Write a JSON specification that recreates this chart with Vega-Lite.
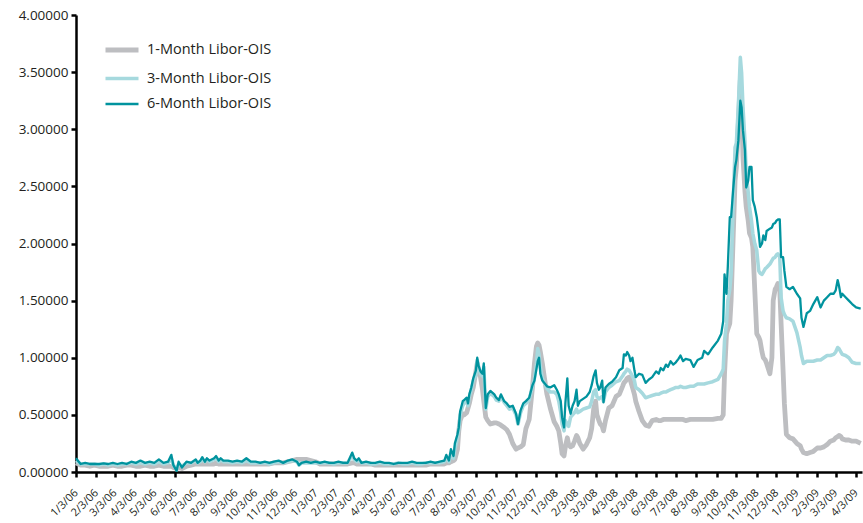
{
  "$schema": "https://vega.github.io/schema/vega-lite/v6.json",
  "width": 786,
  "height": 457,
  "autosize": "none",
  "padding": {"left": 76, "top": 15, "right": 1, "bottom": 51},
  "background": "white",
  "config": {
    "view": {"stroke": null},
    "font": "Open Sans",
    "axis": {
      "domainColor": "#000000",
      "domainWidth": 2.5,
      "tickColor": "#000000",
      "tickWidth": 2.5,
      "tickSize": 5,
      "grid": false,
      "labelColor": "#231f20",
      "labelFont": "Open Sans",
      "title": null
    }
  },
  "data": {"values": [
    {"d":"2006-01-03","m1":0.08,"m3":0.10,"m6":0.12},
    {"d":"2006-01-10","m1":0.06,"m3":0.07,"m6":0.07},
    {"d":"2006-01-17","m1":0.06,"m3":0.07,"m6":0.08},
    {"d":"2006-01-24","m1":0.05,"m3":0.07,"m6":0.07},
    {"d":"2006-01-31","m1":0.06,"m3":0.07,"m6":0.07},
    {"d":"2006-02-07","m1":0.05,"m3":0.06,"m6":0.07},
    {"d":"2006-02-14","m1":0.05,"m3":0.07,"m6":0.075},
    {"d":"2006-02-21","m1":0.05,"m3":0.06,"m6":0.07},
    {"d":"2006-02-28","m1":0.06,"m3":0.07,"m6":0.08},
    {"d":"2006-03-07","m1":0.05,"m3":0.06,"m6":0.07},
    {"d":"2006-03-14","m1":0.05,"m3":0.07,"m6":0.08},
    {"d":"2006-03-21","m1":0.06,"m3":0.07,"m6":0.07},
    {"d":"2006-03-28","m1":0.06,"m3":0.08,"m6":0.09},
    {"d":"2006-04-04","m1":0.05,"m3":0.07,"m6":0.08},
    {"d":"2006-04-11","m1":0.05,"m3":0.08,"m6":0.10},
    {"d":"2006-04-18","m1":0.06,"m3":0.07,"m6":0.08},
    {"d":"2006-04-25","m1":0.05,"m3":0.08,"m6":0.09},
    {"d":"2006-05-02","m1":0.05,"m3":0.07,"m6":0.08},
    {"d":"2006-05-09","m1":0.06,"m3":0.09,"m6":0.11},
    {"d":"2006-05-16","m1":0.05,"m3":0.07,"m6":0.08},
    {"d":"2006-05-23","m1":0.05,"m3":0.08,"m6":0.09},
    {"d":"2006-05-28","m1":0.05,"m3":0.12,"m6":0.15},
    {"d":"2006-05-31","m1":0.04,"m3":0.06,"m6":0.06},
    {"d":"2006-06-05","m1":0.03,"m3":0.02,"m6":0.01},
    {"d":"2006-06-08","m1":0.04,"m3":0.07,"m6":0.09},
    {"d":"2006-06-13","m1":0.03,"m3":0.05,"m6":0.04},
    {"d":"2006-06-20","m1":0.05,"m3":0.08,"m6":0.09},
    {"d":"2006-06-27","m1":0.06,"m3":0.08,"m6":0.08},
    {"d":"2006-07-04","m1":0.07,"m3":0.10,"m6":0.11},
    {"d":"2006-07-07","m1":0.07,"m3":0.08,"m6":0.08},
    {"d":"2006-07-11","m1":0.07,"m3":0.09,"m6":0.10},
    {"d":"2006-07-14","m1":0.07,"m3":0.11,"m6":0.13},
    {"d":"2006-07-18","m1":0.07,"m3":0.09,"m6":0.09},
    {"d":"2006-07-21","m1":0.07,"m3":0.11,"m6":0.12},
    {"d":"2006-07-25","m1":0.07,"m3":0.09,"m6":0.10},
    {"d":"2006-08-01","m1":0.07,"m3":0.11,"m6":0.12},
    {"d":"2006-08-04","m1":0.08,"m3":0.12,"m6":0.14},
    {"d":"2006-08-08","m1":0.07,"m3":0.09,"m6":0.10},
    {"d":"2006-08-11","m1":0.07,"m3":0.11,"m6":0.12},
    {"d":"2006-08-15","m1":0.07,"m3":0.09,"m6":0.10},
    {"d":"2006-08-22","m1":0.07,"m3":0.09,"m6":0.10},
    {"d":"2006-08-29","m1":0.07,"m3":0.08,"m6":0.09},
    {"d":"2006-09-05","m1":0.07,"m3":0.09,"m6":0.10},
    {"d":"2006-09-12","m1":0.07,"m3":0.08,"m6":0.09},
    {"d":"2006-09-19","m1":0.07,"m3":0.10,"m6":0.12},
    {"d":"2006-09-26","m1":0.07,"m3":0.08,"m6":0.09},
    {"d":"2006-10-03","m1":0.07,"m3":0.08,"m6":0.09},
    {"d":"2006-10-10","m1":0.07,"m3":0.08,"m6":0.08},
    {"d":"2006-10-17","m1":0.07,"m3":0.08,"m6":0.09},
    {"d":"2006-10-24","m1":0.07,"m3":0.07,"m6":0.08},
    {"d":"2006-10-31","m1":0.08,"m3":0.08,"m6":0.09},
    {"d":"2006-11-07","m1":0.08,"m3":0.09,"m6":0.10},
    {"d":"2006-11-14","m1":0.08,"m3":0.08,"m6":0.08},
    {"d":"2006-11-21","m1":0.09,"m3":0.09,"m6":0.10},
    {"d":"2006-11-28","m1":0.10,"m3":0.10,"m6":0.11},
    {"d":"2006-12-05","m1":0.11,"m3":0.09,"m6":0.09},
    {"d":"2006-12-08","m1":0.11,"m3":0.06,"m6":0.06},
    {"d":"2006-12-12","m1":0.11,"m3":0.08,"m6":0.08},
    {"d":"2006-12-19","m1":0.11,"m3":0.08,"m6":0.09},
    {"d":"2006-12-26","m1":0.10,"m3":0.08,"m6":0.08},
    {"d":"2007-01-02","m1":0.09,"m3":0.08,"m6":0.09},
    {"d":"2007-01-09","m1":0.07,"m3":0.08,"m6":0.08},
    {"d":"2007-01-16","m1":0.07,"m3":0.08,"m6":0.09},
    {"d":"2007-01-23","m1":0.07,"m3":0.08,"m6":0.08},
    {"d":"2007-01-30","m1":0.07,"m3":0.07,"m6":0.08},
    {"d":"2007-02-06","m1":0.07,"m3":0.08,"m6":0.09},
    {"d":"2007-02-13","m1":0.07,"m3":0.08,"m6":0.08},
    {"d":"2007-02-20","m1":0.07,"m3":0.08,"m6":0.08},
    {"d":"2007-02-27","m1":0.08,"m3":0.15,"m6":0.17},
    {"d":"2007-03-02","m1":0.08,"m3":0.11,"m6":0.12},
    {"d":"2007-03-06","m1":0.07,"m3":0.09,"m6":0.10},
    {"d":"2007-03-09","m1":0.07,"m3":0.10,"m6":0.12},
    {"d":"2007-03-13","m1":0.07,"m3":0.08,"m6":0.08},
    {"d":"2007-03-20","m1":0.07,"m3":0.08,"m6":0.09},
    {"d":"2007-03-27","m1":0.07,"m3":0.07,"m6":0.08},
    {"d":"2007-04-03","m1":0.06,"m3":0.07,"m6":0.08},
    {"d":"2007-04-10","m1":0.06,"m3":0.08,"m6":0.09},
    {"d":"2007-04-17","m1":0.06,"m3":0.07,"m6":0.08},
    {"d":"2007-04-24","m1":0.06,"m3":0.07,"m6":0.08},
    {"d":"2007-05-01","m1":0.06,"m3":0.07,"m6":0.07},
    {"d":"2007-05-08","m1":0.06,"m3":0.08,"m6":0.08},
    {"d":"2007-05-15","m1":0.06,"m3":0.07,"m6":0.08},
    {"d":"2007-05-22","m1":0.06,"m3":0.07,"m6":0.08},
    {"d":"2007-05-29","m1":0.06,"m3":0.08,"m6":0.09},
    {"d":"2007-06-05","m1":0.06,"m3":0.07,"m6":0.08},
    {"d":"2007-06-12","m1":0.06,"m3":0.07,"m6":0.08},
    {"d":"2007-06-19","m1":0.06,"m3":0.08,"m6":0.08},
    {"d":"2007-06-26","m1":0.07,"m3":0.08,"m6":0.09},
    {"d":"2007-07-03","m1":0.07,"m3":0.08,"m6":0.08},
    {"d":"2007-07-10","m1":0.07,"m3":0.08,"m6":0.09},
    {"d":"2007-07-17","m1":0.07,"m3":0.09,"m6":0.10},
    {"d":"2007-07-20","m1":0.08,"m3":0.12,"m6":0.15},
    {"d":"2007-07-24","m1":0.08,"m3":0.09,"m6":0.10},
    {"d":"2007-07-27","m1":0.09,"m3":0.16,"m6":0.20},
    {"d":"2007-07-31","m1":0.10,"m3":0.12,"m6":0.14},
    {"d":"2007-08-02","m1":0.11,"m3":0.20,"m6":0.25},
    {"d":"2007-08-06","m1":0.20,"m3":0.30,"m6":0.33},
    {"d":"2007-08-08","m1":0.36,"m3":0.38,"m6":0.39},
    {"d":"2007-08-10","m1":0.45,"m3":0.50,"m6":0.53},
    {"d":"2007-08-14","m1":0.51,"m3":0.58,"m6":0.62},
    {"d":"2007-08-16","m1":0.50,"m3":0.60,"m6":0.63},
    {"d":"2007-08-20","m1":0.52,"m3":0.62,"m6":0.65},
    {"d":"2007-08-22","m1":0.56,"m3":0.58,"m6":0.60},
    {"d":"2007-08-24","m1":0.60,"m3":0.66,"m6":0.68},
    {"d":"2007-08-27","m1":0.68,"m3":0.72,"m6":0.74},
    {"d":"2007-08-30","m1":0.74,"m3":0.80,"m6":0.82},
    {"d":"2007-09-03","m1":0.88,"m3":0.85,"m6":0.89},
    {"d":"2007-09-05","m1":0.95,"m3":0.98,"m6":1.00},
    {"d":"2007-09-07","m1":0.90,"m3":0.92,"m6":0.93},
    {"d":"2007-09-10","m1":0.83,"m3":0.86,"m6":0.88},
    {"d":"2007-09-13","m1":0.72,"m3":0.84,"m6":0.86},
    {"d":"2007-09-15","m1":0.62,"m3":0.92,"m6":0.95},
    {"d":"2007-09-18","m1":0.48,"m3":0.55,"m6":0.56},
    {"d":"2007-09-21","m1":0.45,"m3":0.66,"m6":0.68},
    {"d":"2007-09-25","m1":0.42,"m3":0.69,"m6":0.71},
    {"d":"2007-10-01","m1":0.43,"m3":0.66,"m6":0.68},
    {"d":"2007-10-04","m1":0.43,"m3":0.63,"m6":0.65},
    {"d":"2007-10-08","m1":0.42,"m3":0.62,"m6":0.63},
    {"d":"2007-10-11","m1":0.41,"m3":0.66,"m6":0.68},
    {"d":"2007-10-16","m1":0.39,"m3":0.61,"m6":0.62},
    {"d":"2007-10-20","m1":0.37,"m3":0.58,"m6":0.60},
    {"d":"2007-10-24","m1":0.33,"m3":0.55,"m6":0.57},
    {"d":"2007-10-29","m1":0.25,"m3":0.56,"m6":0.58},
    {"d":"2007-11-03","m1":0.20,"m3":0.50,"m6":0.51},
    {"d":"2007-11-06","m1":0.21,"m3":0.42,"m6":0.42},
    {"d":"2007-11-10","m1":0.22,"m3":0.52,"m6":0.54},
    {"d":"2007-11-14","m1":0.24,"m3":0.58,"m6":0.60},
    {"d":"2007-11-18","m1":0.38,"m3":0.60,"m6":0.62},
    {"d":"2007-11-23","m1":0.46,"m3":0.63,"m6":0.65},
    {"d":"2007-11-28","m1":0.74,"m3":0.75,"m6":0.76},
    {"d":"2007-12-01","m1":0.95,"m3":0.82,"m6":0.80},
    {"d":"2007-12-04","m1":1.10,"m3":0.95,"m6":0.90},
    {"d":"2007-12-06","m1":1.13,"m3":1.08,"m6":0.97},
    {"d":"2007-12-08","m1":1.11,"m3":1.03,"m6":1.00},
    {"d":"2007-12-10","m1":1.05,"m3":0.92,"m6":0.86},
    {"d":"2007-12-13","m1":0.95,"m3":0.82,"m6":0.80},
    {"d":"2007-12-16","m1":0.83,"m3":0.78,"m6":0.78},
    {"d":"2007-12-20","m1":0.68,"m3":0.73,"m6":0.75},
    {"d":"2007-12-25","m1":0.56,"m3":0.70,"m6":0.74},
    {"d":"2007-12-31","m1":0.44,"m3":0.70,"m6":0.76},
    {"d":"2008-01-04","m1":0.40,"m3":0.68,"m6":0.72},
    {"d":"2008-01-07","m1":0.36,"m3":0.62,"m6":0.68},
    {"d":"2008-01-10","m1":0.25,"m3":0.52,"m6":0.62},
    {"d":"2008-01-12","m1":0.16,"m3":0.42,"m6":0.48},
    {"d":"2008-01-15","m1":0.14,"m3":0.36,"m6":0.39},
    {"d":"2008-01-17","m1":0.22,"m3":0.45,"m6":0.60},
    {"d":"2008-01-20","m1":0.30,"m3":0.42,"m6":0.82},
    {"d":"2008-01-22","m1":0.24,"m3":0.40,"m6":0.58},
    {"d":"2008-01-25","m1":0.22,"m3":0.48,"m6":0.51},
    {"d":"2008-01-28","m1":0.23,"m3":0.50,"m6":0.58},
    {"d":"2008-01-31","m1":0.27,"m3":0.52,"m6":0.62},
    {"d":"2008-02-03","m1":0.32,"m3":0.55,"m6":0.72},
    {"d":"2008-02-05","m1":0.30,"m3":0.52,"m6":0.58},
    {"d":"2008-02-08","m1":0.25,"m3":0.53,"m6":0.62},
    {"d":"2008-02-13","m1":0.20,"m3":0.55,"m6":0.64},
    {"d":"2008-02-18","m1":0.24,"m3":0.56,"m6":0.66},
    {"d":"2008-02-23","m1":0.30,"m3":0.57,"m6":0.70},
    {"d":"2008-02-26","m1":0.38,"m3":0.62,"m6":0.76},
    {"d":"2008-02-29","m1":0.55,"m3":0.70,"m6":0.84},
    {"d":"2008-03-03","m1":0.62,"m3":0.72,"m6":0.89},
    {"d":"2008-03-05","m1":0.50,"m3":0.66,"m6":0.78},
    {"d":"2008-03-08","m1":0.45,"m3":0.64,"m6":0.72},
    {"d":"2008-03-10","m1":0.42,"m3":0.65,"m6":0.74},
    {"d":"2008-03-13","m1":0.40,"m3":0.66,"m6":0.80},
    {"d":"2008-03-15","m1":0.36,"m3":0.62,"m6":0.61},
    {"d":"2008-03-18","m1":0.45,"m3":0.70,"m6":0.74},
    {"d":"2008-03-23","m1":0.56,"m3":0.74,"m6":0.77},
    {"d":"2008-03-28","m1":0.58,"m3":0.76,"m6":0.79},
    {"d":"2008-04-03","m1":0.66,"m3":0.79,"m6":0.83},
    {"d":"2008-04-08","m1":0.68,"m3":0.80,"m6":0.89},
    {"d":"2008-04-13","m1":0.75,"m3":0.84,"m6":0.91},
    {"d":"2008-04-15","m1":0.78,"m3":0.86,"m6":1.03},
    {"d":"2008-04-18","m1":0.80,"m3":0.88,"m6":1.02},
    {"d":"2008-04-20","m1":0.82,"m3":0.90,"m6":1.05},
    {"d":"2008-04-23","m1":0.83,"m3":0.89,"m6":1.02},
    {"d":"2008-04-25","m1":0.80,"m3":0.87,"m6":0.97},
    {"d":"2008-04-28","m1":0.74,"m3":0.84,"m6":1.00},
    {"d":"2008-05-01","m1":0.68,"m3":0.80,"m6":0.89},
    {"d":"2008-05-03","m1":0.62,"m3":0.74,"m6":0.83},
    {"d":"2008-05-08","m1":0.53,"m3":0.72,"m6":0.86},
    {"d":"2008-05-13","m1":0.45,"m3":0.69,"m6":0.85},
    {"d":"2008-05-18","m1":0.41,"m3":0.65,"m6":0.78},
    {"d":"2008-05-23","m1":0.40,"m3":0.66,"m6":0.81},
    {"d":"2008-05-28","m1":0.45,"m3":0.67,"m6":0.83},
    {"d":"2008-06-03","m1":0.46,"m3":0.68,"m6":0.88},
    {"d":"2008-06-07","m1":0.45,"m3":0.68,"m6":0.86},
    {"d":"2008-06-10","m1":0.45,"m3":0.69,"m6":0.91},
    {"d":"2008-06-14","m1":0.46,"m3":0.70,"m6":0.89},
    {"d":"2008-06-18","m1":0.46,"m3":0.70,"m6":0.94},
    {"d":"2008-06-21","m1":0.46,"m3":0.71,"m6":0.92},
    {"d":"2008-06-25","m1":0.46,"m3":0.72,"m6":0.97},
    {"d":"2008-06-29","m1":0.46,"m3":0.73,"m6":0.94},
    {"d":"2008-07-03","m1":0.46,"m3":0.74,"m6":0.96},
    {"d":"2008-07-07","m1":0.46,"m3":0.74,"m6":0.99},
    {"d":"2008-07-10","m1":0.46,"m3":0.75,"m6":1.02},
    {"d":"2008-07-14","m1":0.46,"m3":0.74,"m6":0.97},
    {"d":"2008-07-18","m1":0.45,"m3":0.74,"m6":0.99},
    {"d":"2008-07-25","m1":0.46,"m3":0.75,"m6":0.98},
    {"d":"2008-07-30","m1":0.46,"m3":0.75,"m6":0.92},
    {"d":"2008-08-05","m1":0.46,"m3":0.77,"m6":0.98},
    {"d":"2008-08-12","m1":0.46,"m3":0.77,"m6":1.00},
    {"d":"2008-08-15","m1":0.46,"m3":0.77,"m6":1.06},
    {"d":"2008-08-21","m1":0.46,"m3":0.78,"m6":1.03},
    {"d":"2008-08-28","m1":0.46,"m3":0.79,"m6":1.09},
    {"d":"2008-09-05","m1":0.47,"m3":0.81,"m6":1.15},
    {"d":"2008-09-10","m1":0.47,"m3":0.86,"m6":1.21},
    {"d":"2008-09-13","m1":0.50,"m3":0.90,"m6":1.32},
    {"d":"2008-09-15","m1":0.86,"m3":1.15,"m6":1.73},
    {"d":"2008-09-18","m1":1.21,"m3":1.30,"m6":1.56},
    {"d":"2008-09-20","m1":1.25,"m3":1.50,"m6":1.80},
    {"d":"2008-09-23","m1":1.30,"m3":1.60,"m6":2.23},
    {"d":"2008-09-25","m1":1.50,"m3":1.73,"m6":2.23},
    {"d":"2008-09-28","m1":2.03,"m3":2.32,"m6":2.46},
    {"d":"2008-10-01","m1":2.55,"m3":2.84,"m6":2.67},
    {"d":"2008-10-03","m1":2.67,"m3":2.88,"m6":2.73},
    {"d":"2008-10-06","m1":3.05,"m3":3.20,"m6":2.90},
    {"d":"2008-10-09","m1":3.43,"m3":3.63,"m6":3.25},
    {"d":"2008-10-11","m1":3.20,"m3":3.49,"m6":3.19},
    {"d":"2008-10-13","m1":2.76,"m3":3.20,"m6":2.99},
    {"d":"2008-10-16","m1":2.46,"m3":2.90,"m6":2.82},
    {"d":"2008-10-18","m1":2.32,"m3":2.61,"m6":2.49},
    {"d":"2008-10-21","m1":2.20,"m3":2.45,"m6":2.55},
    {"d":"2008-10-23","m1":2.09,"m3":2.32,"m6":2.67},
    {"d":"2008-10-26","m1":2.05,"m3":2.20,"m6":2.67},
    {"d":"2008-10-28","m1":1.97,"m3":2.09,"m6":2.38},
    {"d":"2008-10-31","m1":1.59,"m3":2.00,"m6":2.32},
    {"d":"2008-11-03","m1":1.21,"m3":1.94,"m6":2.23},
    {"d":"2008-11-06","m1":1.18,"m3":1.76,"m6":2.09},
    {"d":"2008-11-08","m1":1.15,"m3":1.74,"m6":1.97},
    {"d":"2008-11-11","m1":1.05,"m3":1.73,"m6":2.00},
    {"d":"2008-11-13","m1":1.00,"m3":1.75,"m6":2.07},
    {"d":"2008-11-16","m1":0.98,"m3":1.78,"m6":2.03},
    {"d":"2008-11-18","m1":0.95,"m3":1.79,"m6":2.11},
    {"d":"2008-11-23","m1":0.86,"m3":1.82,"m6":2.13},
    {"d":"2008-11-26","m1":1.00,"m3":1.85,"m6":2.14},
    {"d":"2008-11-28","m1":1.50,"m3":1.87,"m6":2.17},
    {"d":"2008-12-01","m1":1.60,"m3":1.88,"m6":2.18},
    {"d":"2008-12-03","m1":1.62,"m3":1.90,"m6":2.20},
    {"d":"2008-12-05","m1":1.65,"m3":1.91,"m6":2.21},
    {"d":"2008-12-08","m1":1.59,"m3":1.88,"m6":2.21},
    {"d":"2008-12-10","m1":1.30,"m3":1.53,"m6":1.88},
    {"d":"2008-12-13","m1":0.89,"m3":1.41,"m6":1.88},
    {"d":"2008-12-15","m1":0.60,"m3":1.38,"m6":1.76},
    {"d":"2008-12-18","m1":0.33,"m3":1.35,"m6":1.62},
    {"d":"2008-12-23","m1":0.30,"m3":1.34,"m6":1.60},
    {"d":"2008-12-28","m1":0.29,"m3":1.32,"m6":1.62},
    {"d":"2009-01-03","m1":0.25,"m3":1.22,"m6":1.56},
    {"d":"2009-01-08","m1":0.23,"m3":1.09,"m6":1.52},
    {"d":"2009-01-10","m1":0.20,"m3":1.02,"m6":1.35},
    {"d":"2009-01-13","m1":0.17,"m3":0.95,"m6":1.27},
    {"d":"2009-01-18","m1":0.16,"m3":0.97,"m6":1.39},
    {"d":"2009-01-23","m1":0.17,"m3":0.97,"m6":1.41},
    {"d":"2009-01-28","m1":0.18,"m3":0.97,"m6":1.47},
    {"d":"2009-02-03","m1":0.21,"m3":0.98,"m6":1.53},
    {"d":"2009-02-08","m1":0.21,"m3":0.98,"m6":1.44},
    {"d":"2009-02-13","m1":0.22,"m3":1.00,"m6":1.50},
    {"d":"2009-02-18","m1":0.24,"m3":1.02,"m6":1.53},
    {"d":"2009-02-23","m1":0.27,"m3":1.02,"m6":1.56},
    {"d":"2009-02-28","m1":0.28,"m3":1.03,"m6":1.56},
    {"d":"2009-03-03","m1":0.30,"m3":1.05,"m6":1.59},
    {"d":"2009-03-06","m1":0.31,"m3":1.09,"m6":1.68},
    {"d":"2009-03-08","m1":0.32,"m3":1.08,"m6":1.63},
    {"d":"2009-03-11","m1":0.31,"m3":1.05,"m6":1.53},
    {"d":"2009-03-13","m1":0.29,"m3":1.03,"m6":1.56},
    {"d":"2009-03-18","m1":0.28,"m3":1.02,"m6":1.53},
    {"d":"2009-03-23","m1":0.28,"m3":1.00,"m6":1.50},
    {"d":"2009-03-28","m1":0.27,"m3":0.96,"m6":1.47},
    {"d":"2009-04-03","m1":0.27,"m3":0.95,"m6":1.44},
    {"d":"2009-04-10","m1":0.25,"m3":0.95,"m6":1.43}
  ]},
  "transform": [
    {"fold": ["m1", "m3", "m6"], "as": ["series", "value"]}
  ],
  "mark": {"type": "line", "interpolate": "linear", "strokeJoin": "round", "strokeCap": "butt"},
  "encoding": {
    "x": {
      "field": "d",
      "type": "temporal",
      "scale": {
        "type": "utc",
        "domain": [
          {"year": 2006, "month": 1, "date": 3, "utc": true},
          {"year": 2009, "month": 4, "date": 12, "utc": true}
        ]
      },
      "axis": {
        "labelExpr": "utcFormat(datum.value, '%-m/%-d/%y')",
        "labelAngle": -45,
        "labelAlign": "right",
        "labelBaseline": "middle",
        "labelPadding": 14,
        "labelFontSize": 11,
        "labelOverlap": false,
        "labelFlush": false,
        "values": [
          {"year":2006,"month":1,"date":3,"utc":true},{"year":2006,"month":2,"date":3,"utc":true},{"year":2006,"month":3,"date":3,"utc":true},{"year":2006,"month":4,"date":3,"utc":true},{"year":2006,"month":5,"date":3,"utc":true},{"year":2006,"month":6,"date":3,"utc":true},{"year":2006,"month":7,"date":3,"utc":true},{"year":2006,"month":8,"date":3,"utc":true},{"year":2006,"month":9,"date":3,"utc":true},{"year":2006,"month":10,"date":3,"utc":true},{"year":2006,"month":11,"date":3,"utc":true},{"year":2006,"month":12,"date":3,"utc":true},
          {"year":2007,"month":1,"date":3,"utc":true},{"year":2007,"month":2,"date":3,"utc":true},{"year":2007,"month":3,"date":3,"utc":true},{"year":2007,"month":4,"date":3,"utc":true},{"year":2007,"month":5,"date":3,"utc":true},{"year":2007,"month":6,"date":3,"utc":true},{"year":2007,"month":7,"date":3,"utc":true},{"year":2007,"month":8,"date":3,"utc":true},{"year":2007,"month":9,"date":3,"utc":true},{"year":2007,"month":10,"date":3,"utc":true},{"year":2007,"month":11,"date":3,"utc":true},{"year":2007,"month":12,"date":3,"utc":true},
          {"year":2008,"month":1,"date":3,"utc":true},{"year":2008,"month":2,"date":3,"utc":true},{"year":2008,"month":3,"date":3,"utc":true},{"year":2008,"month":4,"date":3,"utc":true},{"year":2008,"month":5,"date":3,"utc":true},{"year":2008,"month":6,"date":3,"utc":true},{"year":2008,"month":7,"date":3,"utc":true},{"year":2008,"month":8,"date":3,"utc":true},{"year":2008,"month":9,"date":3,"utc":true},{"year":2008,"month":10,"date":3,"utc":true},{"year":2008,"month":11,"date":3,"utc":true},{"year":2008,"month":12,"date":3,"utc":true},
          {"year":2009,"month":1,"date":3,"utc":true},{"year":2009,"month":2,"date":3,"utc":true},{"year":2009,"month":3,"date":3,"utc":true},{"year":2009,"month":4,"date":3,"utc":true}
        ]
      }
    },
    "y": {
      "field": "value",
      "type": "quantitative",
      "scale": {"domain": [0, 4], "nice": false, "zero": true},
      "axis": {
        "values": [0, 0.5, 1, 1.5, 2, 2.5, 3, 3.5, 4],
        "format": ".5f",
        "labelFontSize": 13.5,
        "labelPadding": 3
      }
    },
    "color": {
      "field": "series",
      "type": "nominal",
      "scale": {"domain": ["m1", "m3", "m6"], "range": ["#BDBEC1", "#A6D9DE", "#00939E"]},
      "legend": {
        "title": null,
        "orient": "none",
        "legendX": 27,
        "legendY": 16,
        "padding": 0,
        "symbolType": "stroke",
        "symbolSize": 1089,
        "rowPadding": -6.5,
        "labelOffset": 6,
        "labelFontSize": 14.5,
        "labelFont": "Open Sans",
        "labelColor": "#231f20",
        "labelExpr": "{'m1': '1-Month Libor-OIS', 'm3': '3-Month Libor-OIS', 'm6': '6-Month Libor-OIS'}[datum.label]"
      }
    },
    "strokeWidth": {
      "field": "series",
      "type": "nominal",
      "scale": {"domain": ["m1", "m3", "m6"], "range": [4.8, 2.3, 2.2]},
      "legend": {
        "title": null,
        "orient": "none",
        "legendX": 27,
        "legendY": 16,
        "padding": 0,
        "symbolType": "stroke",
        "symbolSize": 1089,
        "rowPadding": -6.5,
        "labelOffset": 6,
        "labelFontSize": 14.5,
        "labelFont": "Open Sans",
        "labelColor": "#231f20",
        "labelExpr": "{'m1': '1-Month Libor-OIS', 'm3': '3-Month Libor-OIS', 'm6': '6-Month Libor-OIS'}[datum.label]"
      }
    }
  }
}
